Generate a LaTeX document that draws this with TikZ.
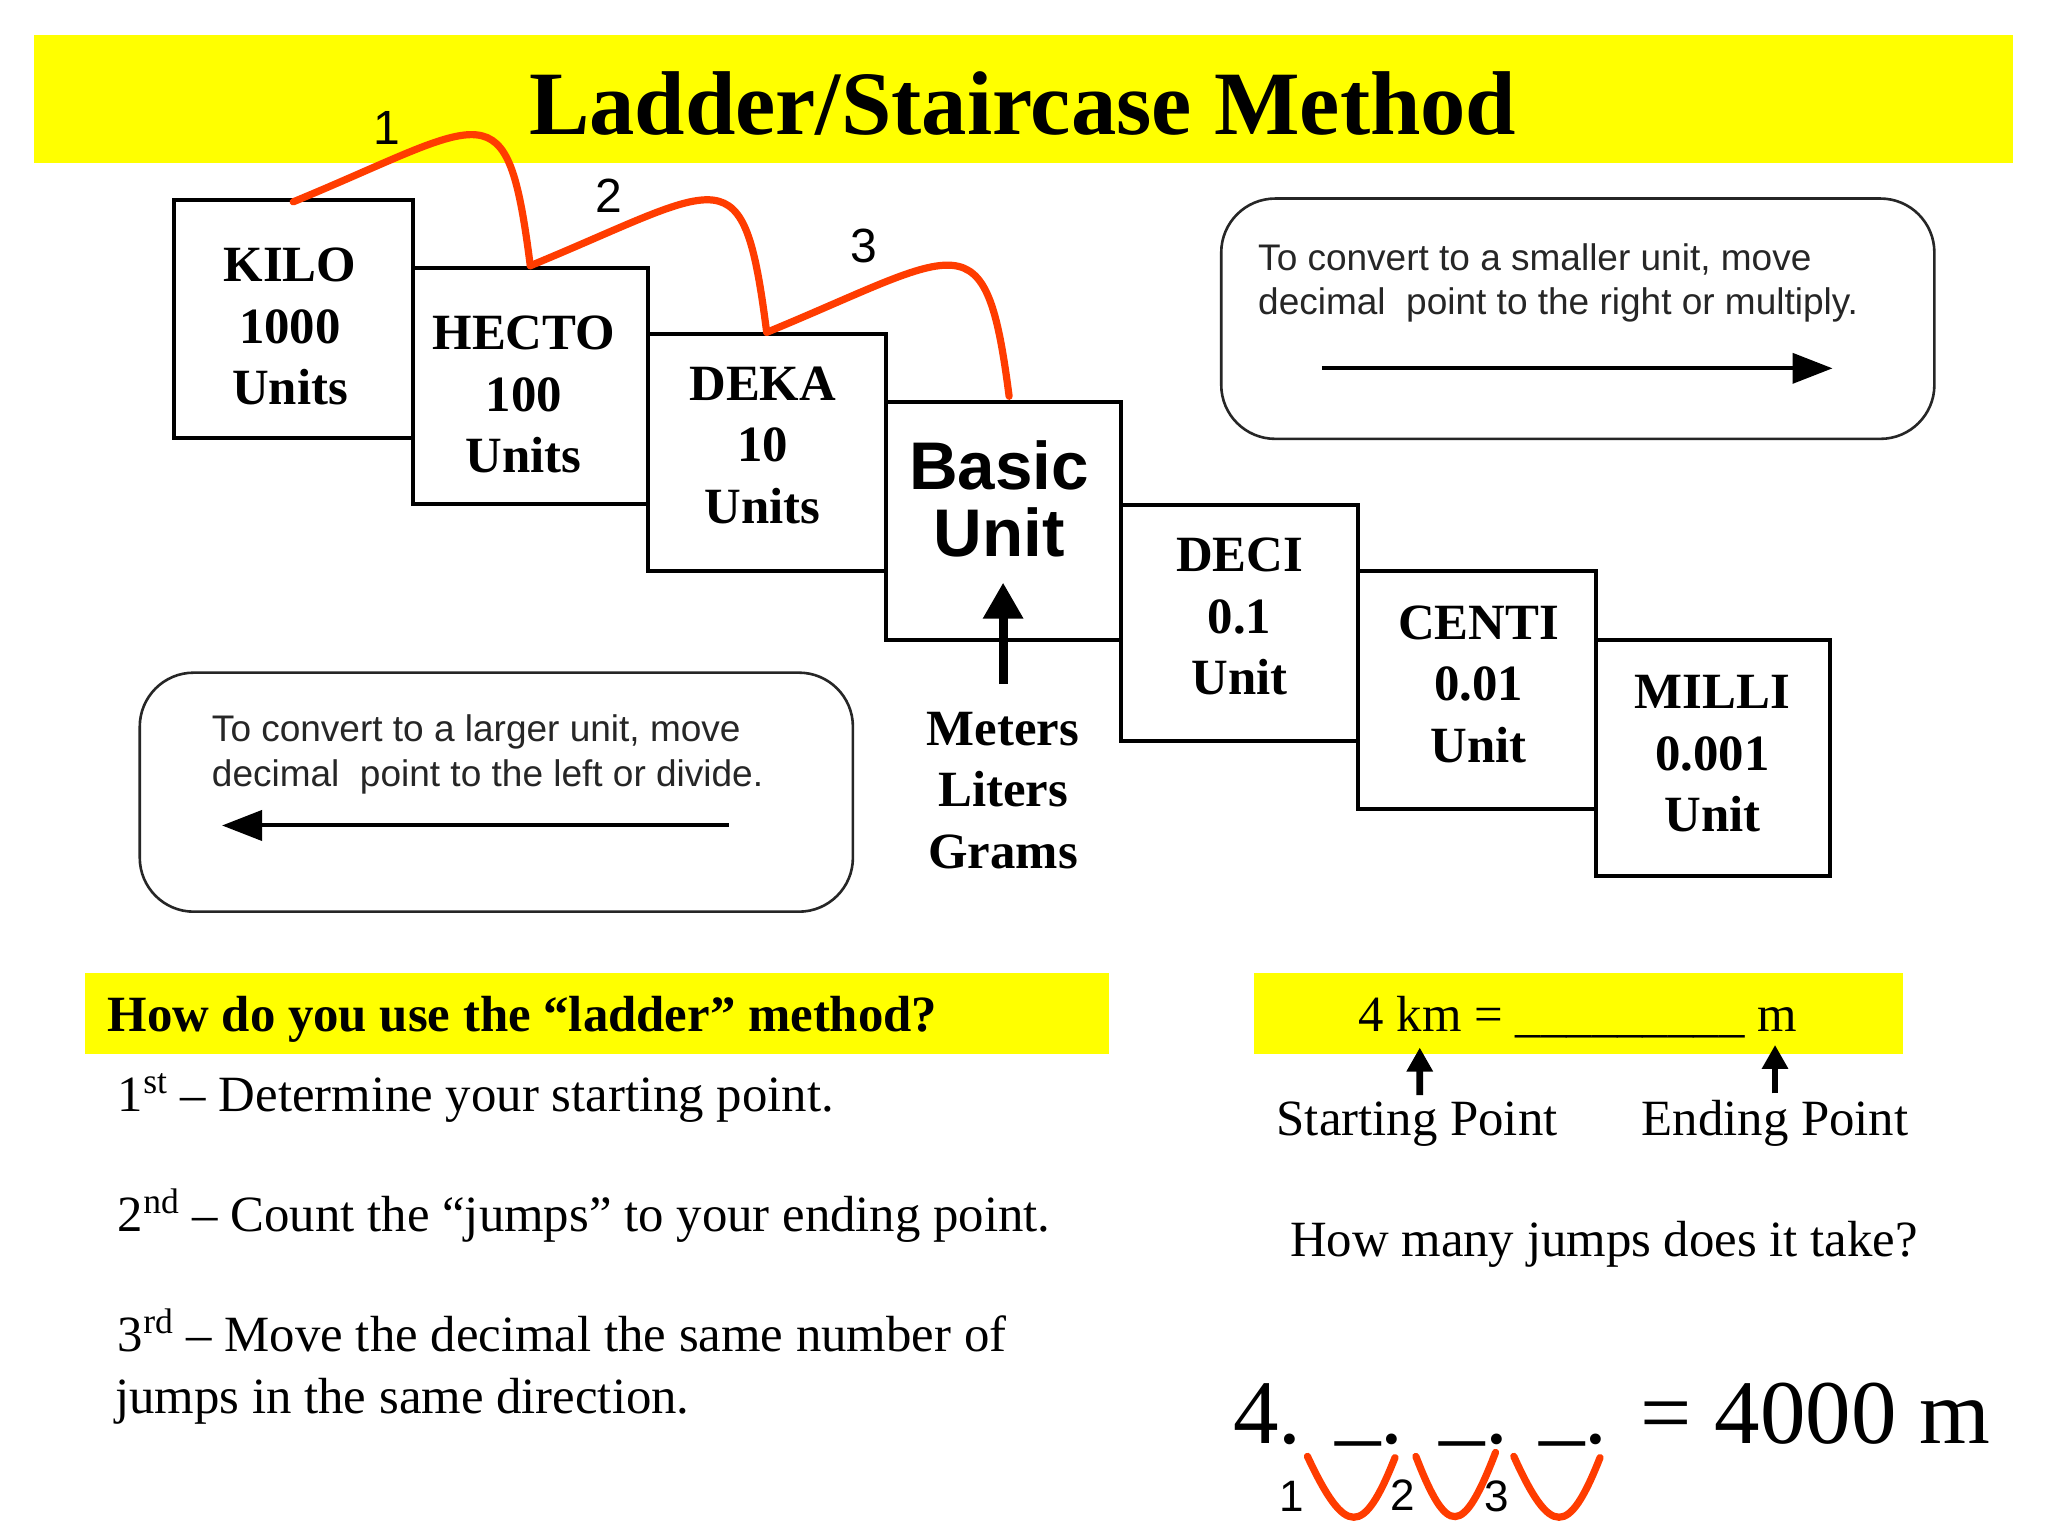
\documentclass[tikz,border=0pt]{standalone}
\usepackage{fontspec}
\setmainfont{Liberation Serif}
\newfontfamily\arialf{Liberation Sans}
\usetikzlibrary{arrows.meta,fit}
\definecolor{ylw}{RGB}{255,255,0}
\definecolor{jumpred}{RGB}{255,60,0}
\begin{document}
\begin{tikzpicture}[x=0.65306pt,y=-0.65306pt,
  box/.style={draw=black, line width=2pt, inner sep=0pt},
  bar/.style={fill=ylw, draw=none, inner sep=0pt},
  rbox/.style={draw=black!85, line width=1.3pt, rounded corners=27pt, inner sep=0pt},
  boxtxt/.style={font=\fontsize{25.4}{30.7}\selectfont\bfseries, align=center, inner sep=0pt},
  bodytxt/.style={font=\fontsize{25.4}{30.7}\selectfont, inner sep=0pt},
  bigtxt/.style={font=\fontsize{45.5}{50}\selectfont, inner sep=0pt, anchor=base west},
  rtxt/.style={font=\arialf\fontsize{18.5}{22}\selectfont, text=black!85, inner sep=0pt, anchor=base west},
  jump/.style={draw=jumpred, line width=3.6pt, line cap=round},
  jlabel/.style={font=\arialf\fontsize{24}{26}\selectfont, inner sep=0pt},
  vlabel/.style={font=\arialf\fontsize{22}{24}\selectfont, inner sep=0pt},
  dirarrow/.style={draw=black, line width=2pt, -{Triangle[length=20pt,width=15pt]}},
  bigarrow/.style={draw=black, line width=4.6pt, -{Triangle[length=18pt,width=19pt]}},
  smallarrow/.style={draw=black, line width=3.4pt, -{Triangle[length=12pt,width=12.5pt]}}
]
\useasboundingbox (0,0) rectangle (1568,1176);
\fill[white] (0,0) rectangle (1568,1176);

% title
\node[bar, fit={(26,27)(1541,125)}] (titlebar) {};
\node[anchor=base, inner sep=0pt, font=\fontsize{45.3}{50}\selectfont\bfseries] (title) at (783,103) {Ladder/Staircase Method};

% staircase boxes
\node[box, fit={(133,153)(316,335)}] (kilo) {};
\node[box, fit={(316,205)(496,386)}] (hecto) {};
\node[box, fit={(496,256)(678,437)}] (deka) {};
\node[box, fit={(678,308)(858,490)}] (basic) {};
\node[box, fit={(858,387)(1040,567)}] (deci) {};
\node[box, fit={(1040,437)(1222,619)}] (centi) {};
\node[box, fit={(1222,490)(1401,671)}] (milli) {};

\node[boxtxt] (kilot) at (222,250) {KILO\\1000\\Units};
\node[boxtxt] (hectot) at (401,302) {HECTO\\100\\Units};
\node[boxtxt] (dekat) at (584,341) {DEKA\\10\\Units};
\node[font=\arialf\fontsize{33.7}{33.3}\selectfont\bfseries, align=center, inner sep=0pt] (basict) at (765,382) {Basic\\Unit};
\node[boxtxt] (decit) at (949,472) {DECI\\0.1\\Unit};
\node[boxtxt] (centit) at (1132,524) {CENTI\\0.01\\Unit};
\node[boxtxt] (millit) at (1311,577) {MILLI\\0.001\\Unit};
\node[boxtxt] (meters) at (768,605) {Meters\\Liters\\Grams};

\coordinate (btip) at (768,446);
\draw[bigarrow] ([yshift=13.7pt]meters.north) -- (btip);

% jumps
\draw[jump] ([yshift=-2pt]kilo.north) .. controls +(150,-62) and +(-18,-140) .. (hecto.north);
\draw[jump] (hecto.north) .. controls +(150,-62) and +(-18,-140) .. (deka.north);
\draw[jump] (deka.north) .. controls +(150,-62) and +(-18,-140) .. ([xshift=3pt,yshift=2pt]basic.north);
\node[jlabel] (j1) at (296,98) {1};
\node[jlabel] (j2) at (466,150) {2};
\node[jlabel] (j3) at (661,188) {3};

% right rounded box
\node[rbox, fit={(935,152)(1481,336)}] (rightbox) {};
\node[rtxt] (rt1) at (963,207) {To convert to a smaller unit, move};
\node[rtxt] (rt2) at (963,241) {decimal~ point to the right or multiply.};
\coordinate (ra1) at (1012,282);
\coordinate (ra2) at (1403,282);
\draw[dirarrow] (ra1) -- (ra2);

% left rounded box
\node[rbox, fit={(107,515)(653,698)}] (leftbox) {};
\node[rtxt] (lt1) at (162,568) {To convert to a larger unit, move};
\node[rtxt] (lt2) at (162,602) {decimal~ point to the left or divide.};
\coordinate (la1) at (558,632);
\coordinate (la2) at (170,632);
\draw[dirarrow] (la1) -- (la2);

% how-to section
\node[bar, fit={(65,745)(849,807)}] (howbar) {};
\node[bodytxt, font=\fontsize{25.4}{30.7}\selectfont\bfseries, anchor=base west] (how) at (82,790) {How do you use the “ladder” method?};
\node[bodytxt, anchor=base west] (s1) at (90,851) {1\textsuperscript{st} – Determine your starting point.};
\node[bodytxt, anchor=base west] (s2) at (90,943) {2\textsuperscript{nd} – Count the “jumps” to your ending point.};
\node[bodytxt, anchor=base west] (s3) at (90,1035) {3\textsuperscript{rd} – Move the decimal the same number of};
\node[bodytxt, anchor=base west] (s4) at (88,1082) {jumps in the same direction.};

% example section
\node[bar, fit={(960,745)(1457,807)}] (kmbar) {};
\node[bodytxt, anchor=base west] (km) at (1040,790) {4 km = \_\_\_\_\_\_\_\_\_ m};
\node[bodytxt, anchor=base] (start) at (1085,869) {Starting Point};
\node[bodytxt, anchor=base] (end) at (1359,869) {Ending Point};
\coordinate (stip) at (1087,802);
\coordinate (etip) at (1359,800);
\draw[smallarrow] ([xshift=1.3pt,yshift=3pt]start.north) -- (stip);
\draw[smallarrow] ([yshift=3pt]end.north) -- (etip);
\node[bodytxt, anchor=base] (howmany) at (1228,962) {How many jumps does it take?};

\node[bigtxt] (four) at (944,1105) {4.};
\node[bigtxt] (b1) at (1022,1105) {\raisebox{0.1em}{\_}.};
\node[bigtxt] (b2) at (1102,1105) {\raisebox{0.1em}{\_}.};
\node[bigtxt] (b3) at (1178,1105) {\raisebox{0.1em}{\_}.};
\node[bigtxt] (eq) at (1256,1105) {= 4000 m};

\coordinate (v1a) at (1001,1115); \coordinate (v1b) at (1068,1116);
\coordinate (v2a) at (1084,1115); \coordinate (v2b) at (1145,1112);
\coordinate (v3a) at (1159,1115); \coordinate (v3b) at (1225,1116);
\draw[jump] (v1a) .. controls +(29,62) and +(-24,61) .. (v1b);
\draw[jump] (v2a) .. controls +(24,62) and +(-25,65) .. (v2b);
\draw[jump] (v3a) .. controls +(28,62) and +(-24,61) .. (v3b);
\node[vlabel] (n1) at (989,1146) {1};
\node[vlabel] (n2) at (1074,1145) {2};
\node[vlabel] (n3) at (1146,1146) {3};
\end{tikzpicture}
\end{document}
